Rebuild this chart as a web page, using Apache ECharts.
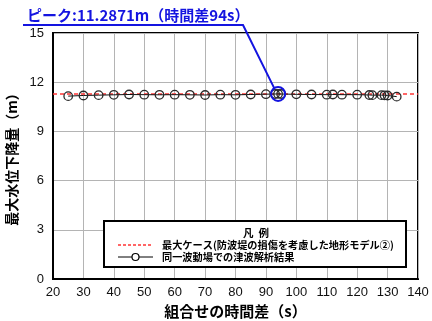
<!DOCTYPE html>
<html>
<head>
<meta charset="utf-8">
<script src="https://cdn.jsdelivr.net/npm/echarts@6/dist/echarts.min.js"></script>
<style>
  html, body { margin: 0; padding: 0; background: #fff; }
  #main { width: 432px; height: 321px; }
</style>
</head>
<body>
<div id="main"></div>
<script>
// time difference (s) and max water level drop (m)
const timeDiff = [25, 30, 35, 40, 45, 50, 55, 60, 65, 70, 75, 80, 85, 90, 93, 94, 95,
  100, 105, 110, 112, 115, 120, 124, 125, 128, 129, 130, 133];
const drop = [11.15, 11.19, 11.21, 11.23, 11.25, 11.24, 11.23, 11.24, 11.23, 11.22, 11.24, 11.23, 11.25, 11.27, 11.28, 11.2871, 11.28,
  11.26, 11.25, 11.24, 11.25, 11.24, 11.24, 11.22, 11.21, 11.21, 11.2, 11.19, 11.12];
const maxCase = 11.2871;
const peakX = 94;
const xTicks = [20, 140, 10];
const yTicks = [0, 15, 3];
const seriesNames = ['最大ケース(防波堤の損傷を考慮した地形モデル②)', '同一波動場での津波解析結果'];
const legendTitle = '凡  例';
const peakText = 'ピーク:11.2871m（時間差94s）';

const jp = '"Noto Sans CJK JP", sans-serif';
const num = '"Liberation Sans", Arial, sans-serif';
const red = '#ff3535';
const blue = '#1414e0';

const chart = echarts.init(document.getElementById('main'), null, { renderer: 'canvas' });

let option = {
  animation: false,
  grid: { left: 53, right: 14, top: 33, bottom: 42, containLabel: false, outerBoundsMode: 'none',
    show: true, borderColor: '#000', borderWidth: 2 },
  xAxis: {
    type: 'value', min: xTicks[0], max: xTicks[1], interval: xTicks[2],
    name: '組合せの時間差（s）', nameLocation: 'middle', nameGap: 15,
    nameTextStyle: { fontFamily: jp, fontSize: 15, fontWeight: 'bold', color: '#000' },
    axisLine: { lineStyle: { color: '#000', width: 2 } },
    axisTick: { show: false },
    axisLabel: { fontFamily: num, fontSize: 13, color: '#111', margin: 7 },
    splitLine: { lineStyle: { color: '#b4b4b4', width: 1 } }
  },
  yAxis: {
    type: 'value', min: yTicks[0], max: yTicks[1], interval: yTicks[2],
    name: '最大水位下降量（m）', nameLocation: 'middle', nameGap: 29,
    nameTextStyle: { fontFamily: jp, fontSize: 14, fontWeight: 'bold', color: '#000' },
    axisLine: { lineStyle: { color: '#000', width: 2 } },
    axisTick: { show: false },
    axisLabel: { fontFamily: num, fontSize: 13, color: '#111', margin: 9 },
    splitLine: { lineStyle: { color: '#b4b4b4', width: 1 } }
  },
  series: [
    {
      name: seriesNames[0], type: 'line', symbol: 'none', z: 1,
      data: [[xTicks[0], maxCase], [xTicks[1], maxCase]],
      lineStyle: { color: red, width: 1.5, type: [4, 3] }
    },
    {
      name: seriesNames[1], type: 'line', z: 3,
      data: timeDiff.map((t, i) => [t, drop[i]]),
      symbol: 'circle', symbolSize: 8.5,
      lineStyle: { color: '#111', width: 1 },
      itemStyle: { color: 'rgba(255,255,255,0)', borderColor: '#2a2a2a', borderWidth: 1.3 }
    }
  ]
};
chart.setOption(option);

// peak callout and legend box
const p = chart.convertToPixel({ gridIndex: 0 }, [peakX, maxCase]);
const lg = { x: 104, y: 221, w: 302, h: 46 };
const txt = (text, x, y, size, extra) => ({
  type: 'text', x: x, y: y, z: 101,
  style: Object.assign({ text: text, fontFamily: jp, fontSize: size, fontWeight: 'bold', fill: '#000', verticalAlign: 'middle' }, extra || {})
});
chart.setOption({
  graphic: [
    txt(peakText, 27, 15, 15, { fill: blue }),
    { type: 'polyline', z: 100,
      shape: { points: [[23, 25], [243, 25], [p[0] - 4, p[1] - 6]] },
      style: { stroke: blue, lineWidth: 2, fill: null } },
    { type: 'circle', z: 100,
      shape: { cx: p[0], cy: p[1], r: 7 },
      style: { stroke: blue, lineWidth: 2, fill: null } },
    { type: 'rect', z: 100,
      shape: { x: lg.x, y: lg.y, width: lg.w, height: lg.h },
      style: { fill: '#fff', stroke: '#000', lineWidth: 2 } },
    txt(legendTitle, 256, 233, 10.5, { align: 'center' }),
    { type: 'line', z: 101,
      shape: { x1: 118, y1: 245, x2: 153, y2: 245 },
      style: { stroke: red, lineWidth: 1.5, lineDash: [3, 2] } },
    txt(seriesNames[0], 162, 245, 10.2),
    { type: 'line', z: 101,
      shape: { x1: 118, y1: 257, x2: 153, y2: 257 },
      style: { stroke: '#000', lineWidth: 1 } },
    { type: 'circle', z: 102,
      shape: { cx: 135.5, cy: 257, r: 3.5 },
      style: { stroke: '#000', lineWidth: 1.2, fill: '#fff' } },
    txt(seriesNames[1], 162, 257, 10.2)
  ]
});
</script>
</body>
</html>
